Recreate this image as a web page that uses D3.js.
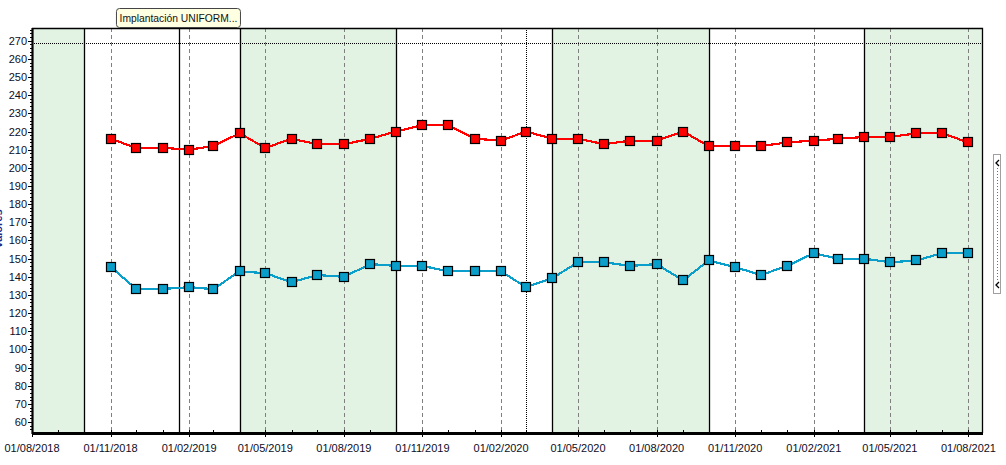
<!DOCTYPE html>
<html>
<head>
<meta charset="utf-8">
<script src="https://cdn.jsdelivr.net/npm/d3@7"></script>
<style>
  body { margin: 0; background: #fff; }
  svg { display: block; font-family: "Liberation Sans", Arial, sans-serif; }
</style>
</head>
<body>
<div id="canvas"></div>
<script>
// DATA
const months = [
  "2018-11-01","2018-12-01","2019-01-01","2019-02-01","2019-03-01","2019-04-01",
  "2019-05-01","2019-06-01","2019-07-01","2019-08-01","2019-09-01","2019-10-01",
  "2019-11-01","2019-12-01","2020-01-01","2020-02-01","2020-03-01","2020-04-01",
  "2020-05-01","2020-06-01","2020-07-01","2020-08-01","2020-09-01","2020-10-01",
  "2020-11-01","2020-12-01","2021-01-01","2021-02-01","2021-03-01","2021-04-01",
  "2021-05-01","2021-06-01","2021-07-01","2021-08-01"
];
const redValues = [
  216, 211, 211, 210, 212, 219, 211, 216, 213, 213, 216, 220,
  223.5, 223.5, 216, 215, 220, 216, 216, 213, 215, 215, 220, 212,
  212, 212, 214, 215, 216, 217, 217, 219, 219, 214
];
const blueValues = [
  145.5, 133.3, 133.3, 134.3, 133.2, 143, 142, 137, 141, 140, 147, 146,
  146, 143, 143, 143, 134.3, 139.3, 148, 148, 146, 147, 138, 149,
  145.3, 141, 146, 153, 150, 150, 148, 149, 153, 153
];
const yTicks = [60,70,80,90,100,110,120,130,140,150,160,170,180,190,200,210,220,230,240,250,260,270];
const xTicks = [
  "2018-08-01","2018-11-01","2019-02-01","2019-05-01","2019-08-01","2019-11-01",
  "2020-02-01","2020-05-01","2020-08-01","2020-11-01","2021-02-01","2021-05-01","2021-08-01"
];
const bandStarts = ["2018-08-01","2019-04-01","2020-04-01","2021-04-01"];
const bandEnds   = ["2018-10-01","2019-10-01","2020-10-01","2021-08-18"];
const solidLines = ["2018-10-01","2019-01-20","2019-04-01","2019-10-01","2020-04-01","2020-10-01","2021-04-01"];
const dottedLine = "2020-03-01";
const limitValue = 268.5;
const eventLabel = "Implantación UNIFORM...";
const eventDate = "2019-01-20";

// DIMENSIONS
const width = 1006;
const height = 465;
const margin = { top: 28, right: 23, bottom: 32, left: 32 };
const x0 = margin.left, x1 = width - margin.right;
const y0 = margin.top, y1 = height - margin.bottom;

const parse = d3.utcParse("%Y-%m-%d");
const fmt = d3.utcFormat("%d/%m/%Y");

// SCALES
const x = d3.scaleUtc()
  .domain([parse("2018-08-01"), parse("2021-08-18")])
  .range([x0, x1]);
const y = d3.scaleLinear()
  .domain([54, 277])
  .range([y1, y0]);

// CANVAS
const svg = d3.select("#canvas").append("svg")
  .attr("width", width)
  .attr("height", height);

// green bands
svg.selectAll("rect.band")
  .data(bandStarts)
  .join("rect")
  .attr("class", "band")
  .attr("x", d => x(parse(d)))
  .attr("y", y0)
  .attr("width", (d, i) => x(parse(bandEnds[i])) - x(parse(d)))
  .attr("height", y1 - y0)
  .style("fill", "#e2f3e4");

// dashed gridlines at major ticks
svg.selectAll("line.grid")
  .data(xTicks.slice(1))
  .join("line")
  .attr("class", "grid")
  .attr("x1", d => Math.round(x(parse(d))) + 0.5)
  .attr("x2", d => Math.round(x(parse(d))) + 0.5)
  .attr("y1", y0)
  .attr("y2", y1)
  .style("stroke", "#808080")
  .style("stroke-dasharray", "4,3");

// solid event lines
svg.selectAll("line.event")
  .data(solidLines)
  .join("line")
  .attr("class", "event")
  .attr("x1", d => Math.round(x(parse(d))) + 0.5)
  .attr("x2", d => Math.round(x(parse(d))) + 0.5)
  .attr("y1", y0)
  .attr("y2", y1)
  .style("stroke", "#000")
  .style("stroke-width", 1.3);

// dotted vertical line
svg.append("line")
  .attr("x1", Math.round(x(parse(dottedLine))) + 0.5)
  .attr("x2", Math.round(x(parse(dottedLine))) + 0.5)
  .attr("y1", y0)
  .attr("y2", y1)
  .style("stroke", "#000")
  .style("stroke-dasharray", "1,1");

// dotted horizontal limit
svg.append("line")
  .attr("x1", x0)
  .attr("x2", x1)
  .attr("y1", Math.round(y(limitValue)) + 0.5)
  .attr("y2", Math.round(y(limitValue)) + 0.5)
  .style("stroke", "#000")
  .style("stroke-dasharray", "1,1");

// frame top / right
svg.append("path")
  .attr("d", `M${x0},${y0 + 0.5}H${x1 - 0.5}V${y1}`)
  .style("fill", "none")
  .style("stroke", "#000")
  .style("stroke-width", 1.3);

// SERIES
const dates = months.map(parse);
const line = d3.line().x(d => x(d[0])).y(d => y(d[1]));

function drawSeries(values, color) {
  const pts = dates.map((d, i) => [d, values[i]]);
  svg.append("path")
    .datum(pts)
    .attr("d", line)
    .style("fill", "none")
    .style("stroke", color)
    .style("stroke-width", 2.2)
    .style("shape-rendering", "crispEdges");
  svg.append("g").selectAll("rect")
    .data(pts)
    .join("rect")
    .attr("x", d => Math.round(x(d[0])) - 4.5)
    .attr("y", d => Math.round(y(d[1])) - 4.5)
    .attr("width", 9)
    .attr("height", 9)
    .style("fill", color)
    .style("stroke", "#000")
    .style("stroke-width", 1.2);
}
drawSeries(redValues, "#ff0000");
drawSeries(blueValues, "#0a9fca");

// AXES
// y axis
const yAxis = svg.append("g");
yAxis.selectAll("line.minor")
  .data(d3.range(56, 277, 2))
  .join("line")
  .attr("x1", x0 - 2)
  .attr("x2", x0)
  .attr("y1", d => Math.round(y(d)) + 0.5)
  .attr("y2", d => Math.round(y(d)) + 0.5)
  .style("stroke", "#000");
yAxis.selectAll("line.major")
  .data(yTicks)
  .join("line")
  .attr("x1", x0 - 4)
  .attr("x2", x0)
  .attr("y1", d => Math.round(y(d)) + 0.5)
  .attr("y2", d => Math.round(y(d)) + 0.5)
  .style("stroke", "#000");
yAxis.selectAll("text")
  .data(yTicks)
  .join("text")
  .attr("x", x0 - 5)
  .attr("y", d => y(d) + 4)
  .attr("text-anchor", "end")
  .style("font-size", "11px")
  .style("fill", "#0d0d26")
  .text(d => d);
yAxis.append("line")
  .attr("x1", x0 + 0.5).attr("x2", x0 + 0.5)
  .attr("y1", y0).attr("y2", y1 + 1)
  .style("stroke", "#000")
  .style("stroke-width", 2.2);

// x axis
const xAxis = svg.append("g");
xAxis.selectAll("line.minor")
  .data(x.ticks(d3.utcMonth.every(1)))
  .join("line")
  .attr("x1", d => Math.round(x(d)) + 0.5)
  .attr("x2", d => Math.round(x(d)) + 0.5)
  .attr("y1", y1 - 3)
  .attr("y2", y1)
  .style("stroke", "#000");
xAxis.selectAll("line.major")
  .data(xTicks)
  .join("line")
  .attr("x1", d => Math.round(x(parse(d))) + 0.5)
  .attr("x2", d => Math.round(x(parse(d))) + 0.5)
  .attr("y1", y1)
  .attr("y2", y1 + 4)
  .style("stroke", "#000");
xAxis.selectAll("text")
  .data(xTicks)
  .join("text")
  .attr("x", d => x(parse(d)))
  .attr("y", y1 + 19)
  .attr("text-anchor", "middle")
  .style("font-size", "11px")
  .style("fill", "#0d0d26")
  .text(d => fmt(parse(d)));
xAxis.append("line")
  .attr("x1", x0).attr("x2", x1)
  .attr("y1", y1 + 0.5).attr("y2", y1 + 0.5)
  .style("stroke", "#000")
  .style("stroke-width", 3);

// y title, mostly hidden past the left edge as in the original
svg.append("text")
  .attr("transform", "translate(2,229) rotate(-90)")
  .attr("text-anchor", "middle")
  .style("font-size", "11px")
  .style("font-weight", "bold")
  .style("fill", "#1a2a8a")
  .text("Valores");

// EVENT LABEL
const ex = x(parse(eventDate));
const lbl = svg.append("g");
lbl.append("rect")
  .attr("x", ex - 62.5)
  .attr("y", 8.5)
  .attr("width", 124)
  .attr("height", 19)
  .attr("rx", 3)
  .style("fill", "#ffffe1")
  .style("stroke", "#444");
lbl.append("text")
  .attr("x", ex - 0.5)
  .attr("y", 22)
  .attr("text-anchor", "middle")
  .style("font-size", "10.3px")
  .style("fill", "#111")
  .text(eventLabel);

// RIGHT SCROLL WIDGET
const sw = svg.append("g");
sw.append("rect")
  .attr("x", 993.5).attr("y", 154.5)
  .attr("width", 7).attr("height", 139)
  .style("fill", "#fff")
  .style("stroke", "#a0a0a0");
sw.append("line")
  .attr("x1", 997.5).attr("x2", 997.5)
  .attr("y1", 168).attr("y2", 281)
  .style("stroke", "#2a7fd0")
  .style("stroke-dasharray", "1,2");
[163, 285].forEach(cy => {
  sw.append("path")
    .attr("d", `M999,${cy - 3}L996,${cy}L999,${cy + 3}`)
    .style("fill", "none")
    .style("stroke", "#000")
    .style("stroke-width", 1.3);
});
</script>
</body>
</html>
